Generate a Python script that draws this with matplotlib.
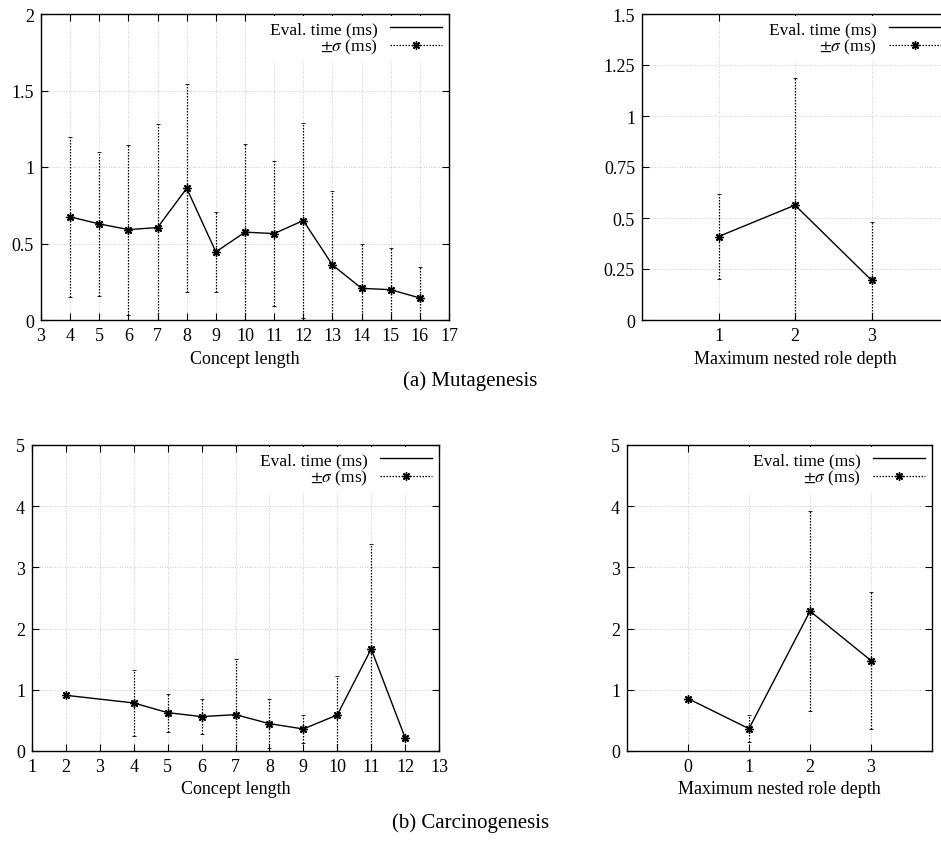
import matplotlib.pyplot as plt
from matplotlib.lines import Line2D
import numpy as np

plt.rcParams['font.family'] = ['Liberation Serif', 'DejaVu Serif']
plt.rcParams['mathtext.fontset'] = 'stix'

# ---------------- data ----------------
# (a) Mutagenesis, concept length
mut_len = [4, 5, 6, 7, 8, 9, 10, 11, 12, 13, 14, 15, 16]
mut_len_time = [0.674, 0.628, 0.591, 0.604, 0.861, 0.445, 0.574, 0.565, 0.650, 0.360, 0.207, 0.198, 0.144]
mut_len_std = [0.525, 0.470, 0.556, 0.680, 0.680, 0.264, 0.575, 0.473, 0.635, 0.480, 0.293, 0.273, 0.201]

# (a) Mutagenesis, role depth
mut_depth = [1, 2, 3]
mut_depth_time = [0.409, 0.563, 0.195]
mut_depth_std = [0.207, 0.623, 0.283]

# (b) Carcinogenesis, concept length
car_len = [2, 4, 5, 6, 7, 8, 9, 10, 11, 12]
car_len_time = [0.91, 0.785, 0.627, 0.562, 0.594, 0.447, 0.360, 0.589, 1.668, 0.218]
car_len_std = [0.0, 0.54, 0.31, 0.285, 0.905, 0.395, 0.235, 0.63, 1.71, 0.0]

# (b) Carcinogenesis, role depth
car_depth = [0, 1, 2, 3]
car_depth_time = [0.856, 0.365, 2.285, 1.478]
car_depth_std = [0.0, 0.225, 1.63, 1.12]

W, H = 941, 853
fig = plt.figure(figsize=(W / 100, H / 100), dpi=100)

STAR = (8, 2, 0)
DOTS = (0, (1.2, 1.2))


def rect(left, right, top, bottom):
    return [left / W, 1 - bottom / H, (right - left) / W, (bottom - top) / H]


def panel(r, x, y, s, xlim, ylim, xticks, yticks, yticklabels, xlabel):
    ax = fig.add_axes(r)
    ax.plot(x, y, color='black', lw=1.0, zorder=3)
    s_arr = np.array(s)
    mask = s_arr > 0
    eb = ax.errorbar(np.array(x)[mask], np.array(y)[mask], yerr=s_arr[mask], fmt='none',
                     ecolor='black', elinewidth=0.9, capsize=1.5, capthick=0.6, zorder=2)
    eb[2][0].set_linestyle(DOTS)
    ax.plot(x, y, ls='none', marker=STAR, ms=6, mec='black', mew=1.0, zorder=4)
    ax.set_xlim(*xlim)
    ax.set_ylim(*ylim)
    ax.set_xticks(xticks)
    ax.set_yticks(yticks)
    ax.set_yticklabels(yticklabels)
    ax.tick_params(direction='in', top=True, right=True, length=5, width=0.8, labelsize=13, pad=5)
    ax.grid(True, color='#bbbbbb', ls=(0, (1, 2)), lw=0.6)
    ax.set_axisbelow(True)
    for sp in ax.spines.values():
        sp.set_linewidth(1.0)
    ax.set_xlabel(xlabel, fontsize=13, labelpad=4)
    handles = [Line2D([], [], color='black', lw=1.0),
               Line2D([], [], color='black', lw=0.9, ls=DOTS,
                      marker=STAR, ms=6, mew=1.0, markevery=[1])]
    ax.legend(handles, ['Eval. time (ms)', r'$\pm\sigma$ (ms)'], loc='upper right',
              markerfirst=False, fontsize=12.5, handlelength=3.0, handletextpad=0.7,
              labelspacing=0.0, borderaxespad=0.1, borderpad=0.3,
              frameon=True, fancybox=False, edgecolor='none', facecolor='white',
              framealpha=1.0)
    return ax


panel(rect(41, 449, 15, 321), mut_len, mut_len_time, mut_len_std,
      (3, 17), (0, 2), range(3, 18), [0, 0.5, 1, 1.5, 2], ['0', '0.5', '1', '1.5', '2'],
      'Concept length')
panel(rect(642, 948, 15, 321), mut_depth, mut_depth_time, mut_depth_std,
      (0, 4), (0, 1.5), [1, 2, 3], [0, 0.25, 0.5, 0.75, 1, 1.25, 1.5],
      ['0', '0.25', '0.5', '0.75', '1', '1.25', '1.5'], 'Maximum nested role depth')
panel(rect(32, 439, 446, 752), car_len, car_len_time, car_len_std,
      (1, 13), (0, 5), range(1, 14), range(0, 6), [str(v) for v in range(6)],
      'Concept length')
panel(rect(627, 932, 446, 752), car_depth, car_depth_time, car_depth_std,
      (-1, 4), (0, 5), [0, 1, 2, 3], range(0, 6), [str(v) for v in range(6)],
      'Maximum nested role depth')

fig.text(0.5, 1 - 381 / H, '(a) Mutagenesis', ha='center', va='center', fontsize=15)
fig.text(0.5, 1 - 823 / H, '(b) Carcinogenesis', ha='center', va='center', fontsize=15)

fig.savefig('out.png', dpi=100)
